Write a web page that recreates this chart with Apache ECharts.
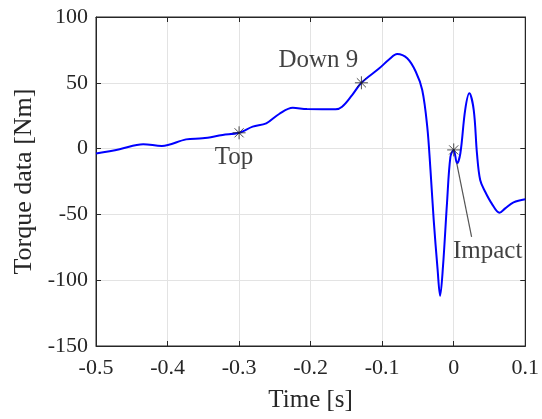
<!DOCTYPE html>
<html><head><meta charset="utf-8">
<script src="https://cdn.jsdelivr.net/npm/echarts@6/dist/echarts.min.js"></script>
<style>html,body{margin:0;padding:0;background:#fff}#c{width:542px;height:419px}</style>
</head><body><div id="c"></div>
<script>
var times = [-0.5,-0.467,-0.434,-0.408,-0.374,-0.351,-0.323,-0.3,-0.281,-0.262,-0.244,-0.225,-0.205,-0.165,-0.156,-0.142,-0.129,-0.104,-0.09,-0.079,-0.065,-0.053,-0.044,-0.037,-0.0325,-0.028,-0.0225,-0.019,-0.015,-0.0094,-0.0046,0,0.0046,0.0093,0.016,0.0218,0.028,0.0325,0.037,0.044,0.053,0.064,0.072,0.0836,0.1];
var torque = [-3.8,-0.5,3.3,2,7,7.8,10.3,12,16.7,19.2,26.3,31,30,29.9,31.8,40.7,50,61,67.9,71.9,68.6,58.4,44.5,16.7,-16,-54,-92,-111.8,-89.7,-41.6,-6.2,-1,-11.2,-3.6,29.3,42,29.3,-3.6,-23.9,-32.8,-41.6,-48.7,-45.4,-40.8,-38.5];
var markerNames = ['Top','Down 9','Impact'];
var markerTimes = [-0.3,-0.129,0];
var markerTorque = [12,50,-1];
var impactLeader = [[0.0042,-11],[0.025,-67]];

var font = 'Liberation Serif';
var lineData = times.map(function(t,i){return [t,torque[i]];});
var labelCfg = [
  {position:'bottom', distance:5, offset:[-5,0]},
  {position:'top', distance:3, offset:[-43,0]},
  {position:'bottom', distance:4, offset:[34,78]}
];
var markerData = markerTimes.map(function(t,i){
  return {value:[t,markerTorque[i]], name:markerNames[i],
    label:Object.assign({show:true, formatter:markerNames[i], color:'#111', fontFamily:font, fontSize:25}, labelCfg[i])};
});
var star = 'path://M0,-1L0,1M-1,0L1,0M-0.7,-0.7L0.7,0.7M-0.7,0.7L0.7,-0.7';
var chart = echarts.init(document.getElementById('c'), null, {renderer:'canvas'});
var axisTxt = {color:'#262626', fontFamily:font, fontSize:22};
var tick = {inside:true, length:5, lineStyle:{color:'#262626'}};
var dark = {onZero:false, lineStyle:{color:'#262626'}};
var grid = {lineStyle:{color:'#e3e3e3', width:1}};
chart.setOption({
  animation:false,
  grid:{left:96, right:15, top:17, bottom:73, show:true, borderColor:'#262626', borderWidth:1, backgroundColor:'#fff'},
  xAxis:[{type:'value', min:-0.5, max:0.1, interval:0.1, position:'bottom',
    name:'Time [s]', nameLocation:'middle', nameGap:42, nameTextStyle:{color:'#262626', fontFamily:font, fontSize:25},
    axisLine:dark, axisTick:tick,
    axisLabel:Object.assign({margin:11, formatter:function(v){var r=Math.round(v*10)/10; return r===0?'0':String(r);}}, axisTxt),
    splitLine:Object.assign({show:true}, grid)},
    {type:'value', min:-0.5, max:0.1, interval:0.1, position:'top', axisLine:dark, axisTick:tick, axisLabel:{show:false}, splitLine:{show:false}}],
  yAxis:[{type:'value', min:-150, max:100, interval:50, position:'left',
    name:'Torque data [Nm]', nameLocation:'middle', nameGap:56, nameTextStyle:{color:'#262626', fontFamily:font, fontSize:26},
    axisLine:dark, axisTick:tick,
    axisLabel:Object.assign({margin:8}, axisTxt),
    splitLine:Object.assign({show:true}, grid)},
    {type:'value', min:-150, max:100, interval:50, position:'right', axisLine:dark, axisTick:tick, axisLabel:{show:false}, splitLine:{show:false}}],
  series:[
    {type:'line', data:lineData, smooth:0.35, showSymbol:false, lineStyle:{color:'#0000ff', width:2}, z:2,
     markLine:{silent:true, symbol:['none','none'], label:{show:false}, lineStyle:{color:'#555', width:1.2, type:'solid'},
       data:[[{coord:impactLeader[0]},{coord:impactLeader[1]}]]}},
    {type:'scatter', data:markerData, symbol:star, symbolSize:13, z:3,
     itemStyle:{color:'transparent', borderColor:'#222', borderWidth:1}}
  ]
});
</script></body></html>
